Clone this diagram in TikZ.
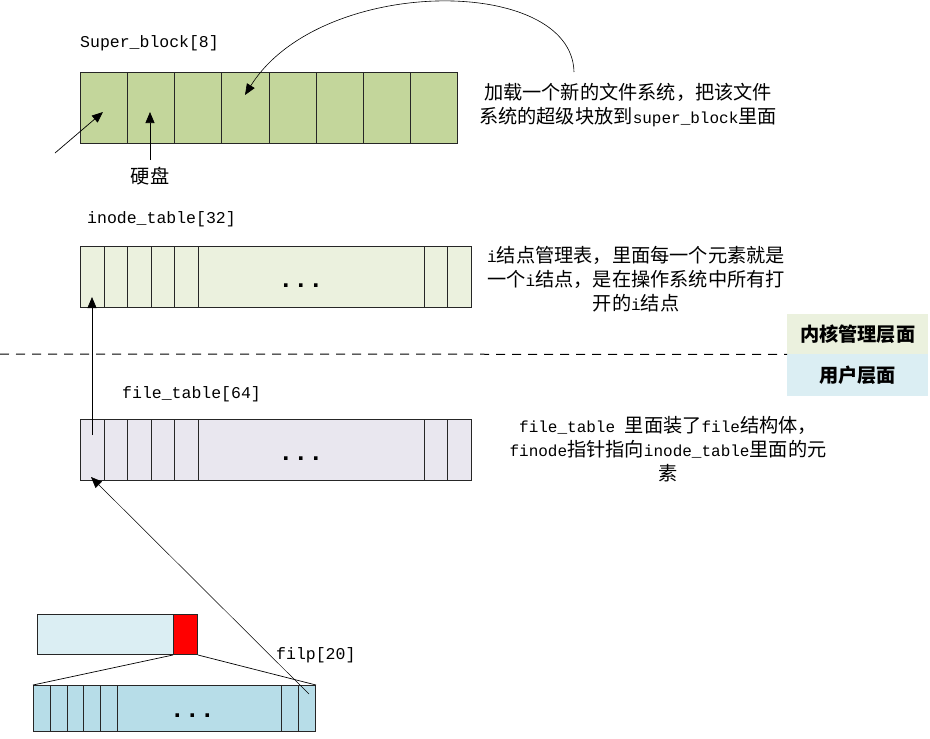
\documentclass[tikz,border=0pt]{standalone}
\usepackage{fontspec}
\setmainfont{Liberation Mono}
\newfontfamily\cjk[Scale=1.2]{Noto Sans CJK SC}
\usetikzlibrary{arrows.meta}
\definecolor{sbfill}{HTML}{C3D69B}
\definecolor{infill}{HTML}{EBF1DE}
\definecolor{ftfill}{HTML}{E9E7EF}
\definecolor{upfill}{HTML}{DBEEF3}
\definecolor{fpfill}{HTML}{B7DDE8}
\tikzstyle{cell}=[draw=black!85, line width=1pt, inner sep=0pt, anchor=north west]
\tikzstyle{layer}=[inner sep=0pt, anchor=north west, minimum width=141pt, font=\fontsize{16}{20}\selectfont\bfseries]
\tikzstyle{lbl}=[anchor=west, inner sep=0pt, font=\fontsize{16.5}{20}\selectfont]
\tikzstyle{note}=[align=center, inner sep=0pt, font=\fontsize{16}{24}\selectfont]
\tikzstyle{dots}=[inner sep=0pt, font=\fontsize{25}{25}\selectfont\bfseries]
\tikzstyle{arr}=[-{Triangle[length=11pt,width=9pt]}, line width=0.7pt]

\begin{document}
\begin{tikzpicture}[x=1pt,y=-1pt]
	\useasboundingbox (0,0) rectangle (930,739);

		% Super_block
		\node[lbl] (sblab) at (80,43) {Super\_block[8]};
		\foreach \i in {0,...,7}
		\node[cell, fill=sbfill, minimum width=47.125pt, minimum height=71pt] (sb\i) at (80+47.125*\i,72) {};

		% inode_table
		\node[lbl] (inlab) at (87,219) {inode\_table[32]};
		\foreach \i in {0,...,4}
		\node[cell, fill=infill, minimum width=23.5pt, minimum height=61pt] (in\i) at (80+23.5*\i,246) {};
		\node[cell, fill=infill, minimum width=226pt, minimum height=61pt] (inmid) at (197.5,246) {};
		\foreach \i/\xpos in {5/423.5, 6/447}
		\node[cell, fill=infill, minimum width=23.5pt, minimum height=61pt] (in\i) at (\xpos,246) {};
		\node[dots] (indots) at ([xshift=-10pt,yshift=-9pt]inmid.center) {...};

		% file_table
		\node[lbl] (ftlab) at (122,394) {file\_table[64]};
		\foreach \i in {0,...,4}
		\node[cell, fill=ftfill, minimum width=23.5pt, minimum height=61pt] (ft\i) at (80+23.5*\i,419) {};
		\node[cell, fill=ftfill, minimum width=226pt, minimum height=61pt] (ftmid) at (197.5,419) {};
		\foreach \i/\xpos in {5/423.5, 6/447}
		\node[cell, fill=ftfill, minimum width=23.5pt, minimum height=61pt] (ft\i) at (\xpos,419) {};
		\node[dots] (ftdots) at ([xshift=-10pt,yshift=-9pt]ftmid.center) {...};

		% filp
		\node[cell, fill=upfill, minimum width=136pt, minimum height=40pt] (fbox) at (37,614) {};
		\node[cell, fill=red, minimum width=24pt, minimum height=40pt] (fred) at (173,614) {};
		\node[lbl] (fplab) at (276,655) {filp[20]};
		\foreach \i in {0,...,4}
		\node[cell, fill=fpfill, minimum width=16.8pt, minimum height=46pt] (fp\i) at (33+16.8*\i,685) {};
		\node[cell, fill=fpfill, minimum width=164pt, minimum height=46pt] (fpmid) at (117,685) {};
		\foreach \i/\xpos in {5/281, 6/298}
		\node[cell, fill=fpfill, minimum width=17pt, minimum height=46pt] (fp\i) at (\xpos,685) {};
		\node[dots] (fpdots) at ([xshift=-7pt,yshift=-7pt]fpmid.center) {...};
		\draw[line width=0.7pt] (fred.south west) -- (fp0.north west);
		\draw[line width=0.7pt] (fred.south east) -- (fp6.north east);

		% layers
		\node[layer, fill=infill, minimum height=40pt] (kern) at (787,314) {\cjk 内核管理层面};
		\node[layer, fill=upfill, minimum height=42pt] (user) at (787,354) {\cjk 用户层面};
		\coordinate (dl) at (0,354);
		\draw[dash pattern=on 9pt off 7pt, line width=1pt] (dl) -- (kern.south west);

		% notes
		\node[note] (sbnote) at (628,105) {{\cjk 加载一个新的文件系统，把该文件}\\{\cjk 系统的超级块放到}super\_block{\cjk 里面}};
		\node[note] (innote) at (636,279) {i{\cjk 结点管理表，里面每一个元素就是}\\{\cjk 一个}i{\cjk 结点，是在操作系统中所有打}\\{\cjk 开的}i{\cjk 结点}};
		\node[note] (ftnote) at (668,449) {file\_table {\cjk 里面装了}file{\cjk 结构体，}\\finode{\cjk 指针指向}inode\_table{\cjk 里面的元}\\{\cjk 素}};
		\node[note] (disk) at (150,176) {\cjk 硬盘};

		% arrows
		\coordinate (t1) at (55,153);
		\coordinate (h1) at (103,112);
		\coordinate (t2) at (150,160);
		\coordinate (h2) at (150,112);
		\coordinate (t3) at (574,72);
		\coordinate (h3) at (245,95);
		\coordinate (t4) at (92,435);
		\coordinate (h4) at (92,297);
		\coordinate (t5) at (309,694);
		\coordinate (h5) at (91,477);
		\draw[arr] (t1) -- (h1);
		\draw[arr] (t2) -- (h2);
		\draw[arr, line width=0.6pt] (t3) .. controls (572,-25) and (320,-25) .. (h3);
		\draw[arr] (t4) -- (h4);
		\draw[arr, line width=0.5pt] (t5) -- (h5);
\end{tikzpicture}
\end{document}
